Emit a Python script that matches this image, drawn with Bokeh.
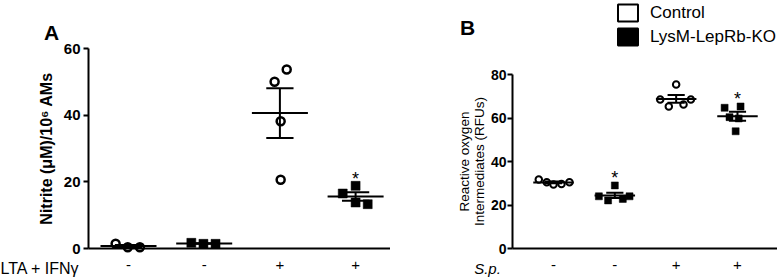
import numpy as np
from bokeh.plotting import figure
from bokeh.models import (Range1d, FixedTicker, Label, Legend, LegendItem)
from bokeh.layouts import row
from bokeh.embed import file_html
from bokeh.resources import INLINE
from bokeh.core.properties import value

FONT = "Liberation Sans"

# ---------------- Panel A data ----------------
a_groups = [1, 2, 3, 4]
a_tick_labels = ["-", "-", "+", "+"]
a_x_title = "LTA + IFNγ"
a_y_title = "Nitrite (μM)/10⁶ AMs"
a_y_ticks = [0, 20, 40, 60]
a_control_neg = [1.4, 0.4, 0.4]
a_ko_neg = [1.7, 1.4, 1.4]
a_control_pos = [50.0, 53.7, 38.2, 20.6]
a_ko_pos = [16.5, 18.8, 13.8, 13.3]
a_significant = [False, False, False, True]

# ---------------- Panel B data ----------------
b_groups = [1, 2, 3, 4]
b_tick_labels = ["-", "-", "+", "+"]
b_x_title = "S.p."
b_y_title = "Reactive oxygen\nIntermediates (RFUs)"
b_y_ticks = [0, 20, 40, 60, 80]
b_control_neg = [31.7, 30.5, 29.4, 29.7, 30.5]
b_ko_neg = [24.0, 22.1, 29.0, 22.8, 24.0]
b_control_pos = [68.5, 65.3, 75.4, 66.2, 68.5]
b_ko_pos = [64.7, 65.3, 60.4, 59.8, 53.9]
b_significant = [False, True, False, True]

legend_labels = ["Control", "LysM-LepRb-KO"]

# horizontal scatter offsets within each group (layout only)
a_offsets = [[-0.17, -0.01, 0.15], [-0.17, -0.01, 0.15],
             [-0.07, 0.09, 0.01, 0.01], [-0.17, 0.0, 0.0, 0.16]]
b_offsets = [[-0.24, -0.11, 0.0, 0.13, 0.26], [-0.26, -0.11, 0.0, 0.13, 0.24],
             [-0.26, -0.12, 0.0, 0.12, 0.24], [-0.21, 0.05, -0.13, 0.02, -0.03]]


def base_fig(width, height, xr, yr, y_axis_x, x_axis_end, y_top, ticks, labels):
    p = figure(width=width, height=height, x_range=Range1d(*xr), y_range=Range1d(*yr),
               output_backend="svg", toolbar_location=None, title=None,
               min_border_left=0, min_border_right=0, min_border_top=0, min_border_bottom=0)
    p.xgrid.visible = False
    p.ygrid.visible = False
    p.outline_line_color = None
    p.background_fill_color = "white"
    p.border_fill_color = "white"
    xa = p.xaxis[0]
    xa.fixed_location = 0
    xa.bounds = (y_axis_x, x_axis_end)
    xa.ticker = FixedTicker(ticks=ticks)
    xa.major_label_overrides = {t: l for t, l in zip(ticks, labels)}
    xa.axis_line_width = 2
    xa.axis_line_color = "black"
    xa.major_tick_line_color = None
    xa.major_tick_out = 0
    xa.major_tick_in = 0
    xa.minor_tick_line_color = None
    xa.major_label_text_font = FONT
    xa.major_label_text_font_size = "15px"
    xa.major_label_text_color = "black"
    xa.major_label_standoff = 11
    ya = p.yaxis[0]
    ya.fixed_location = y_axis_x
    ya.bounds = (0, y_top)
    ya.axis_line_width = 2
    ya.axis_line_color = "black"
    ya.major_tick_line_width = 2
    ya.major_tick_line_color = "black"
    ya.major_tick_out = 5
    ya.major_tick_in = 0
    ya.minor_tick_line_color = None
    ya.major_label_text_font = FONT
    ya.major_label_text_font_style = "bold"
    ya.major_label_text_color = "black"
    ya.axis_label_text_font = FONT
    ya.axis_label_text_color = "black"
    return p


def draw_group(p, gx, vals, offs, control, size, lw, mean_hw, cap_hw, sig, ppu):
    xs = [gx + o for o in offs]
    if control:
        p.scatter(xs, vals, marker="circle", size=size, fill_color="white",
                  line_color="black", line_width=lw)
    else:
        p.scatter(xs, vals, marker="square", size=size, fill_color="black",
                  line_color="black", line_width=lw)
    m = float(np.mean(vals))
    se = float(np.std(vals, ddof=1) / np.sqrt(len(vals)))
    p.segment(x0=[gx - mean_hw, gx, gx - cap_hw, gx - cap_hw],
              y0=[m, m - se, m + se, m - se],
              x1=[gx + mean_hw, gx, gx + cap_hw, gx + cap_hw],
              y1=[m, m + se, m + se, m - se],
              line_color="black", line_width=2)
    if sig:
        p.text(x=[gx], y=[max(vals) + 7.0 / ppu], text=["*"], text_align="center",
               text_baseline="alphabetic",
               text_font=value(FONT), text_font_size="18px", text_color="black")


H = 280
Y0 = 248  # canvas y of value 0

# ---------------- Panel A ----------------
a_ppu_x, a_ppu_y = 75.7, 200.0 / 60.0
a_w = 390
a_x0 = 1 - 128 / a_ppu_x
a_yaxis_x = 1 - (128 - 88) / a_ppu_x
a_xend = a_yaxis_x + 302 / a_ppu_x
pa = base_fig(a_w, H, (a_x0, a_x0 + a_w / a_ppu_x), (-(H - Y0) / a_ppu_y, Y0 / a_ppu_y),
              a_yaxis_x, a_xend, 60, a_groups, a_tick_labels)
pa.yaxis[0].ticker = FixedTicker(ticks=a_y_ticks)
pa.yaxis[0].major_label_text_font_size = "15px"
pa.yaxis[0].axis_label = a_y_title
pa.yaxis[0].axis_label_text_font_size = "16px"
pa.yaxis[0].axis_label_text_font_style = "bold"
pa.yaxis[0].axis_label_standoff = 6
pa.yaxis[0].major_label_standoff = 3

a_sets = [(a_control_neg, True), (a_ko_neg, False), (a_control_pos, True), (a_ko_pos, False)]
for gx, (vals, ctrl), offs, sig in zip(a_groups, a_sets, a_offsets, a_significant):
    if ctrl:
        draw_group(pa, gx, vals, offs, True, 8, 2.5, 0.37, 0.18, sig, a_ppu_y)
    else:
        draw_group(pa, gx, vals, offs, False, 9, 0.5, 0.37, 0.18, sig, a_ppu_y)

pa.add_layout(Label(x=0, y=12, x_units="screen", y_units="screen", text=a_x_title,
                    text_align="left", text_baseline="middle", text_font=FONT,
                    text_font_size="16px", text_color="black"))
pa.add_layout(Label(x=51, y=248, x_units="screen", y_units="screen", text="A",
                    text_align="center", text_baseline="middle", text_font=FONT,
                    text_font_style="bold", text_font_size="21px", text_color="black"))

# ---------------- Panel B ----------------
b_ppu_x, b_ppu_y = 61.33, 174.0 / 80.0
b_w = 387
b_x0 = 1 - (553 - 390) / b_ppu_x
b_yaxis_x = 1 - (553 - 512) / b_ppu_x
b_xend = b_x0 + b_w / b_ppu_x
pb = base_fig(b_w, H, (b_x0, b_xend), (-(H - Y0) / b_ppu_y, Y0 / b_ppu_y),
              b_yaxis_x, b_xend, 80, b_groups, b_tick_labels)
pb.yaxis[0].ticker = FixedTicker(ticks=b_y_ticks)
pb.yaxis[0].major_label_text_font_size = "14px"
pb.yaxis[0].axis_label = b_y_title
pb.yaxis[0].axis_label_text_font_size = "13.5px"
pb.yaxis[0].axis_label_text_font_style = "normal"
pb.yaxis[0].axis_label_text_line_height = 1.0
pb.yaxis[0].axis_label_standoff = 1
pb.yaxis[0].major_label_standoff = 1

b_sets = [(b_control_neg, True), (b_ko_neg, False), (b_control_pos, True), (b_ko_pos, False)]
for gx, (vals, ctrl), offs, sig in zip(b_groups, b_sets, b_offsets, b_significant):
    if ctrl:
        draw_group(pb, gx, vals, offs, True, 6.5, 2, 0.33, 0.14, sig, b_ppu_y)
    else:
        draw_group(pb, gx, vals, offs, False, 7, 0.5, 0.33, 0.14, sig, b_ppu_y)

pb.add_layout(Label(x=97, y=12, x_units="screen", y_units="screen", text=b_x_title,
                    text_align="center", text_baseline="middle", text_font=FONT,
                    text_font_style="italic", text_font_size="15px", text_color="black"))
pb.add_layout(Label(x=77, y=253, x_units="screen", y_units="screen", text="B",
                    text_align="center", text_baseline="middle", text_font=FONT,
                    text_font_style="bold", text_font_size="21px", text_color="black"))

# legend swatches: renderers with a single non-drawable (NaN) entry
nan = [float("nan")]
q_ctrl = pb.quad(left=nan, right=nan, top=nan, bottom=nan, fill_color="white",
                 line_color="black", line_width=2)
q_ko = pb.quad(left=nan, right=nan, top=nan, bottom=nan, fill_color="black",
               line_color="black", line_width=2)
legend = Legend(items=[LegendItem(label=legend_labels[0], renderers=[q_ctrl]),
                       LegendItem(label=legend_labels[1], renderers=[q_ko])],
                location=(225, 233), orientation="vertical",
                glyph_width=25, glyph_height=21, label_height=21, spacing=3,
                padding=0, margin=0, label_standoff=10,
                border_line_alpha=0, background_fill_alpha=0,
                label_text_font=FONT, label_text_font_size="17px",
                label_text_color="black")
pb.add_layout(legend)

layout = row(pa, pb)
open("out.html", "w").write(file_html(layout, INLINE))
